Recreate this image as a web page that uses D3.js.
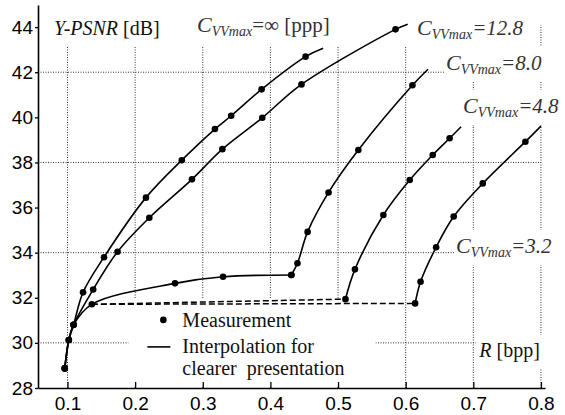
<!DOCTYPE html>
<html>
<head>
<meta charset="utf-8">
<script src="https://cdn.jsdelivr.net/npm/d3@7"></script>
<style>
  body { margin: 0; background: #fff; }
  svg { display: block; }
</style>
</head>
<body>
<script>
// values (R in bpp, Y-PSNR in dB)
var xTicks = [0.1, 0.2, 0.3, 0.4, 0.5, 0.6, 0.7, 0.8];
var yTicks = [28, 30, 32, 34, 36, 38, 40, 42, 44];
var yGrid = [30, 34, 38, 42];

var ptsInf = [[0.096, 28.87], [0.102, 30.13], [0.109, 30.80], [0.123, 32.24], [0.154, 33.80],
              [0.216, 36.44], [0.269, 38.10], [0.318, 39.48], [0.342, 40.07], [0.387, 41.24], [0.452, 42.69]];
var endInf = [0.478, 43.06];

var pts128 = [[0.096, 28.87], [0.102, 30.13], [0.109, 30.80], [0.138, 32.37], [0.174, 34.04],
              [0.221, 35.55], [0.284, 37.25], [0.329, 38.59], [0.388, 39.98], [0.446, 41.46], [0.585, 43.90]];
var end128 = [0.603, 44.13];

var pts80Flat = [[0.096, 28.87], [0.102, 30.13], [0.109, 30.80], [0.136, 31.71], [0.259, 32.64],
                 [0.330, 32.93], [0.431, 33.01]];
var pts80Rise = [[0.431, 33.01], [0.440, 33.53], [0.455, 34.92], [0.486, 36.67], [0.530, 38.55], [0.610, 41.42]];
var end80 = [0.633, 42.13];

var pts48 = [[0.511, 31.94], [0.525, 33.26], [0.567, 35.67], [0.606, 37.22], [0.640, 38.33], [0.665, 39.07]];
var end48 = [0.682, 39.58];

var pts32 = [[0.614, 31.75], [0.622, 32.71], [0.645, 34.24], [0.671, 35.60], [0.714, 37.07], [0.777, 38.92]];
var end32 = [0.800, 39.61];

var dashFrom = [0.136, 31.71];
var dashTo = [[0.511, 31.94], [0.614, 31.75]];

var curveLabels = [
  {value: "\u221e", unit: " [ppp]", at: [0.2915, 43.78], upright: true},
  {value: "12.8", unit: "", at: [0.6168, 43.65]},
  {value: "8.0", unit: "", at: [0.6596, 42.10]},
  {value: "4.8", unit: "", at: [0.6848, 40.19]},
  {value: "3.2", unit: "", at: [0.6744, 33.99]}
];

function graph(){
	var margin = {top: 5, right: 20, bottom: 27, left: 38},
		width = 565 - margin.left - margin.right,
		height = 415 - margin.top - margin.bottom;

	var serif = "'Liberation Serif', 'Times New Roman', serif";
	var sans = "'Liberation Sans', Arial, sans-serif";

	var xScale = d3.scaleLinear().domain([0.0564, 0.806]).range([0, width]);
	var yScale = d3.scaleLinear().domain([28, 44.98]).range([height, 0]);

	var svg = d3.select("body")
				.append("svg")
				.attr("width", width + margin.left + margin.right)
				.attr("height", height + margin.top + margin.bottom)
				.style("background", "#fff")
				.append("g")
				.attr("transform", "translate(" + margin.left + "," + margin.top + ")");

	// dotted grid
	var grid = svg.append("g")
		.attr("stroke", "#333")
		.attr("stroke-width", 1)
		.attr("stroke-dasharray", "1,1.5");

	grid.selectAll("line.v")
		.data(xTicks)
		.enter()
		.append("line")
		.attr("x1", function(d){ return xScale(d); })
		.attr("x2", function(d){ return xScale(d); })
		.attr("y1", yScale(28))
		.attr("y2", yScale(44.1));

	grid.selectAll("line.h")
		.data(yGrid)
		.enter()
		.append("line")
		.attr("x1", 0)
		.attr("x2", xScale(0.8))
		.attr("y1", function(d){ return yScale(d); })
		.attr("y2", function(d){ return yScale(d); });

	var masks = svg.append("g");
	var labels = svg.append("g");

	// top band where the axis title and the first label sit
	masks.append("rect")
		.attr("x", 1)
		.attr("y", -margin.top)
		.attr("width", xScale(0.6) + 3)
		.attr("height", yScale(43.12) + margin.top)
		.attr("fill", "#fff");

	// axis title
	var yt = labels.append("text")
		.attr("x", 16)
		.attr("y", 30)
		.style("font-family", serif)
		.style("font-size", "20px")
		.attr("fill", "#111");
	yt.append("tspan").style("font-style", "italic").text("Y-PSNR");
	yt.append("tspan").text(" [dB]");

	// curve labels
	curveLabels.forEach(function(c){
		var t = labels.append("text")
			.attr("x", xScale(c.at[0]))
			.attr("y", yScale(c.at[1]))
			.style("font-family", serif)
			.attr("fill", "#333");
		t.append("tspan").style("font-size", "22px").style("font-style", "italic").text("C");
		t.append("tspan").style("font-size", "14px").style("font-style", "italic").attr("dy", 4).text("VVmax");
		t.append("tspan").style("font-size", "21px").attr("dy", -4)
			.style("font-style", c.upright ? "normal" : "italic")
			.text("=" + c.value + c.unit);
		if (!c.upright) {
			var b = t.node().getBBox();
			masks.append("rect")
				.attr("x", b.x - 2)
				.attr("y", b.y - 3)
				.attr("width", b.width + 8)
				.attr("height", b.height + 8)
				.attr("fill", "#fff");
		}
	});

	// x axis title
	var xt = labels.append("text")
		.attr("x", xScale(0.7) + 6)
		.attr("y", yScale(29.37))
		.style("font-family", serif)
		.style("font-size", "20px")
		.attr("fill", "#111");
	xt.append("tspan").style("font-style", "italic").text("R");
	xt.append("tspan").text(" [bpp]");
	var xb = xt.node().getBBox();
	masks.append("rect")
		.attr("x", xb.x - 2)
		.attr("y", xb.y - 4)
		.attr("width", xb.width + 10)
		.attr("height", xb.height + 10)
		.attr("fill", "#fff");

	// legend
	var lx = xScale(0.19), ly = yScale(31.95);
	masks.append("rect")
		.attr("x", lx)
		.attr("y", ly)
		.attr("width", 247)
		.attr("height", height - ly - 1)
		.attr("fill", "#fff");

	var legend = labels.append("g")
		.style("font-family", serif)
		.style("font-size", "20px")
		.attr("fill", "#111");
	legend.append("circle")
		.attr("cx", lx + 35)
		.attr("cy", ly + 21)
		.attr("r", 3.3)
		.attr("fill", "#000");
	legend.append("line")
		.attr("x1", lx + 19)
		.attr("x2", lx + 42)
		.attr("y1", ly + 48)
		.attr("y2", ly + 48)
		.attr("stroke", "#000")
		.attr("stroke-width", 1.6);
	legend.append("text").attr("x", lx + 54).attr("y", ly + 28).text("Measurement");
	legend.append("text").attr("x", lx + 54).attr("y", ly + 54).text("Interpolation for");
	legend.append("text").attr("x", lx + 54).attr("y", ly + 76)
		.style("white-space", "pre")
		.text("clearer  presentation");

	// curves
	var line = d3.line()
		.x(function(d){ return xScale(d[0]); })
		.y(function(d){ return yScale(d[1]); })
		.curve(d3.curveCatmullRom.alpha(0.5));

	var paths = [ptsInf.concat([endInf]), pts128.concat([end128]), pts80Flat,
	             pts80Rise.concat([end80]), pts48.concat([end48]), pts32.concat([end32])];

	svg.selectAll("path.curve")
		.data(paths)
		.enter()
		.append("path")
		.attr("class", "curve")
		.attr("d", line)
		.attr("fill", "none")
		.attr("stroke", "#000")
		.attr("stroke-width", 1.6);

	svg.selectAll("line.dash")
		.data(dashTo)
		.enter()
		.append("line")
		.attr("x1", xScale(dashFrom[0]))
		.attr("y1", yScale(dashFrom[1]))
		.attr("x2", function(d){ return xScale(d[0]); })
		.attr("y2", function(d){ return yScale(d[1]); })
		.attr("stroke", "#000")
		.attr("stroke-width", 1.5)
		.attr("stroke-dasharray", "6,3");

	var dots = [].concat(ptsInf, pts128, pts80Flat, pts80Rise, pts48, pts32);
	svg.selectAll("circle.dot")
		.data(dots)
		.enter()
		.append("circle")
		.attr("class", "dot")
		.attr("r", 3.3)
		.attr("cx", function(d){ return xScale(d[0]); })
		.attr("cy", function(d){ return yScale(d[1]); })
		.style("fill", "#000");

	labels.raise();

	// axes
	var xAxis = d3.axisBottom().scale(xScale).tickValues(xTicks)
		.tickSizeInner(-6).tickSizeOuter(0).tickPadding(9).tickFormat(d3.format(".1f"));
	var yAxis = d3.axisLeft().scale(yScale).tickValues(yTicks)
		.tickSizeInner(3).tickSizeOuter(0).tickPadding(2);

	var gx = svg.append("g")
		.attr("transform", "translate(0," + height + ")")
		.call(xAxis);
	var gy = svg.append("g")
		.call(yAxis);

	[gx, gy].forEach(function(g){
		g.select(".domain").attr("stroke", "#000").attr("stroke-width", 1.6);
		g.selectAll(".tick line").attr("stroke", "#000").attr("stroke-width", 1.3);
		g.selectAll(".tick text")
			.style("font-family", sans)
			.style("font-size", "19px")
			.attr("fill", "#000");
	});
}

graph()
</script>
</body>
</html>
